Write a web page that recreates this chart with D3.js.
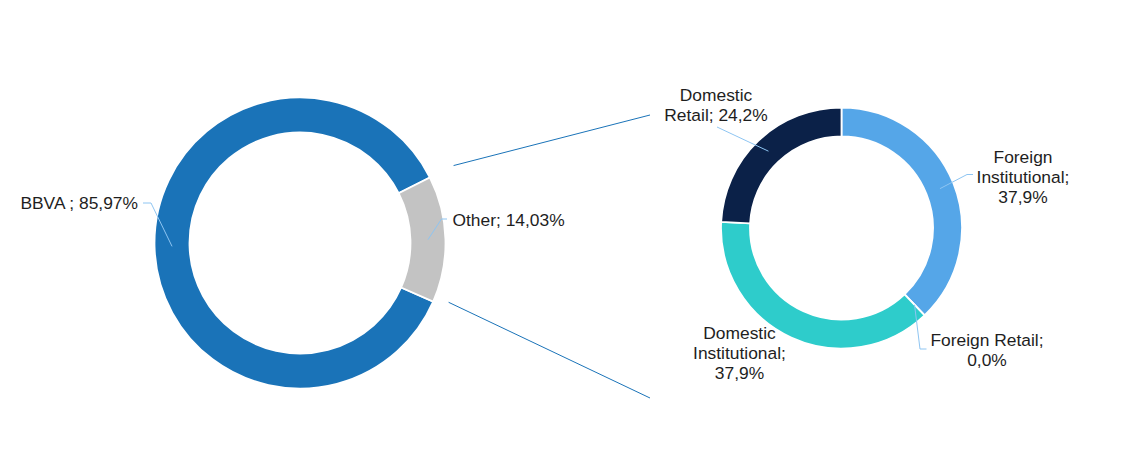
<!DOCTYPE html>
<html><head><meta charset="utf-8">
<script src="https://cdn.jsdelivr.net/npm/d3@7"></script>
<style>
html,body{margin:0;padding:0;background:#fff;}
svg{display:block;font-family:"Liberation Sans",Arial,sans-serif;}
</style></head>
<body>
<svg id="chart" width="1135" height="453"></svg>
<script>
// ---- data ----
const mainCategories = ["BBVA", "Other"];
const mainValues = [85.97, 14.03];
const mainLabels = ["BBVA ; 85,97%", "Other; 14,03%"];

const subCategories = ["Foreign Institutional", "Foreign Retail", "Domestic Institutional", "Domestic Retail"];
const subValues = [37.9, 0.0, 37.9, 24.2];
const subLabels = [["Foreign", "Institutional;", "37,9%"], ["Foreign Retail;", "0,0%"], ["Domestic", "Institutional;", "37,9%"], ["Domestic", "Retail; 24,2%"]];

// ---- styles / layout ----
const mainColors = ["#1a73b8", "#c3c3c3"];
const subColors = ["#55a6e8", "#8ec5f2", "#2ecccb", "#0b2148"];
const leaderColor = "#8ec5f2";
const textColor = "#1e1e1e";
const fontSize = 17.4;
const lineH = 20;

const svg = d3.select("#chart");

function deg(d) { return d * Math.PI / 180; }
function pt(cx, cy, r, a) { return [cx + r * Math.sin(a), cy - r * Math.cos(a)]; }

// main donut
const M = {cx: 300, cy: 243, ro: 145.5, ri: 110.5};
const mainStart = deg(113.75);
const mainPie = d3.pie().sort(null).value(d => d).startAngle(mainStart).endAngle(mainStart + 2 * Math.PI);
const mainArcs = mainPie(mainValues);
const mainArc = d3.arc().innerRadius(M.ri).outerRadius(M.ro);
const gM = svg.append("g").attr("transform", `translate(${M.cx},${M.cy})`);
gM.selectAll("path").data(mainArcs).join("path")
  .attr("d", mainArc).attr("fill", (d, i) => mainColors[i])
  .attr("stroke", "#fff").attr("stroke-width", 1.8);

// sub donut
const S = {cx: 841.5, cy: 228, ro: 120.5, ri: 91.5};
const subPie = d3.pie().sort(null).value(d => d).startAngle(0).endAngle(2 * Math.PI);
const subArcs = subPie(subValues);
const subArc = d3.arc().innerRadius(S.ri).outerRadius(S.ro);
const gS = svg.append("g").attr("transform", `translate(${S.cx},${S.cy})`);
gS.selectAll("path").data(subArcs).join("path")
  .attr("d", subArc).attr("fill", (d, i) => subColors[i])
  .attr("stroke", "#fff").attr("stroke-width", 1.8);

// connector lines between the donuts
const otherArc = mainArcs[1];
const c1 = pt(M.cx, M.cy, 172, otherArc.startAngle);
const c2 = pt(M.cx, M.cy, 160, otherArc.endAngle - deg(2));
svg.append("line").attr("x1", c1[0]).attr("y1", c1[1]).attr("x2", 650).attr("y2", 115)
  .attr("stroke", "#1a73b8").attr("stroke-width", 1);
svg.append("line").attr("x1", c2[0]).attr("y1", c2[1]).attr("x2", 650).attr("y2", 398)
  .attr("stroke", "#1a73b8").attr("stroke-width", 1);

// label layouts: elbow point, end point, text anchor position
const mainLayout = [
  {elbow: [151, 203], end: [143, 203], tx: 138, ty: 203, anchor: "end"},
  {elbow: [441.5, 219], end: [447, 219], tx: 452.5, ty: 220, anchor: "start"}
];
const subLayout = [
  {elbow: [967, 174.5], end: [973, 174.5], tx: 1023, ty: 176.5, anchor: "middle"},
  {elbow: [920, 349], end: [926.5, 349], tx: 987, ty: 350, anchor: "middle"},
  {elbow: null, end: null, tx: 739.5, ty: 353.3, anchor: "middle"},
  {elbow: [717, 127], end: null, tx: 716, ty: 105, anchor: "middle"}
];

function drawLeader(cx, cy, arcGen, d, lay) {
  if (!lay.elbow) return;
  const c = arcGen.centroid(d);
  const pts = [[cx + c[0], cy + c[1]], lay.elbow];
  if (lay.end) pts.push(lay.end);
  svg.append("path").attr("d", d3.line()(pts))
    .attr("fill", "none").attr("stroke", leaderColor).attr("stroke-width", 1);
}
function drawText(lines, lay) {
  const n = lines.length;
  const t = svg.append("text").attr("text-anchor", lay.anchor)
    .attr("font-size", fontSize).attr("fill", textColor);
  lines.forEach((s, i) => {
    t.append("tspan").attr("x", lay.tx)
      .attr("y", lay.ty + (i - (n - 1) / 2) * lineH)
      .attr("dy", "0.35em").text(s);
  });
}

mainArcs.forEach((d, i) => { drawLeader(M.cx, M.cy, mainArc, d, mainLayout[i]); drawText([mainLabels[i]], mainLayout[i]); });
subArcs.forEach((d, i) => { drawLeader(S.cx, S.cy, subArc, d, subLayout[i]); drawText(subLabels[i], subLayout[i]); });
</script>
</body></html>
